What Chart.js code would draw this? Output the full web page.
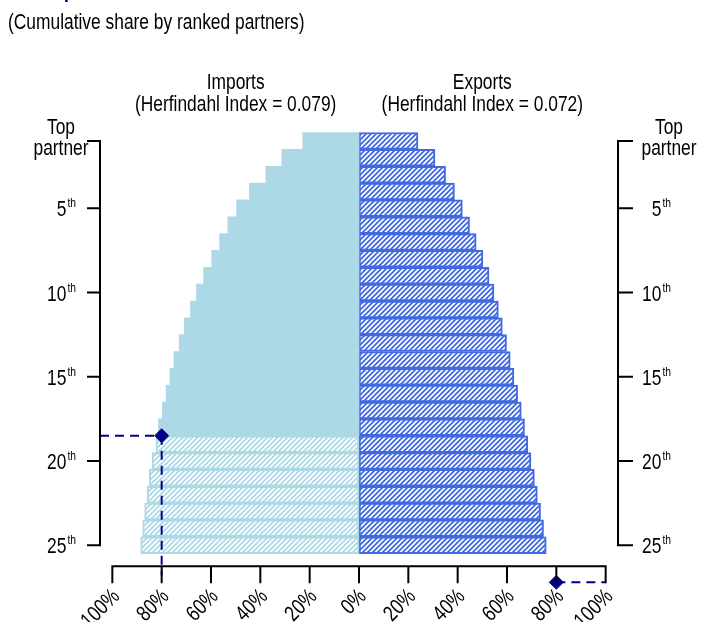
<!DOCTYPE html>
<html>
<head>
<meta charset="utf-8">
<script src="https://cdn.jsdelivr.net/npm/chart.js@4.4.0/dist/chart.umd.min.js"></script>
<style>
  html, body { margin: 0; padding: 0; background: #fff; }
  #chart { display: block; }
</style>
</head>
<body>
<canvas id="chart" width="701" height="622"></canvas>
<script>
// Ranked partners (1 = top partner)
const ranks = [1, 2, 3, 4, 5, 6, 7, 8, 9, 10, 11, 12, 13, 14, 15, 16, 17, 18, 19, 20, 21, 22, 23, 24, 25];
// Cumulative share (%) of imports / exports by ranked partner
const importShare = [22.8, 31.3, 37.8, 44.4, 49.6, 53.2, 56.5, 59.7, 63.0, 65.9, 68.3, 70.8, 72.9,
                     75.0, 76.6, 78.2, 79.7, 81.3, 82.3, 83.9, 85.0, 85.9, 86.9, 87.7, 88.5];
const exportShare = [23.9, 30.8, 35.1, 38.7, 41.9, 44.8, 47.5, 50.2, 52.7, 54.7, 56.5, 58.1, 59.8,
                     61.3, 62.8, 64.3, 65.8, 67.1, 68.4, 69.7, 71.1, 72.3, 73.6, 74.8, 75.9];
const herfindahl = [0.079, 0.072];
const panelTitles = ["Imports", "Exports"];
const threshold = 80;

// tick labels
const xTickValues = [-100, -80, -60, -40, -20, 0, 20, 40, 60, 80, 100];
const xTickLabels = ["100%", "80%", "60%", "40%", "20%", "0%", "20%", "40%", "60%", "80%", "100%"];
const yTickValues = [1, 5, 10, 15, 20, 25];
const yTickLabels = ["Top partner", "5", "10", "15", "20", "25"];

const LIGHT = "#ADD8E6";
const ROYAL = "#4169E1";
const NAVY = "#00008B";
const FONT = '"Liberation Sans", Arial, sans-serif';
const SQUEEZE = 0.79;   // no condensed font installed, so squeeze the regular one

// where the 80% line sits (between ranks, or below the axis when never reached)
const importCut = importShare.findIndex(v => v >= threshold);      // index of first rank over 80%
const exportCut = exportShare.findIndex(v => v >= threshold);
const notReachedRank = 27.2;
const importMarkRank = importCut >= 0 ? ranks[importCut] + 0.5 : notReachedRank;
const exportMarkRank = exportCut >= 0 ? ranks[exportCut] + 0.5 : notReachedRank;
const axisRank = 26.25;      // x axis position
const yMin = 0.35, yMax = 27.66;
const xMin = -105, xMax = 105;

function hatch(color) {
    var c = document.createElement("canvas");
    c.width = c.height = 5;
    var g = c.getContext("2d");
    g.fillStyle = "#fff";
    g.fillRect(0, 0, 5, 5);
    g.strokeStyle = color;
    g.lineWidth = 1.8;
    g.beginPath();
    g.moveTo(0, 5); g.lineTo(5, 0);
    g.moveTo(-2.5, 2.5); g.lineTo(2.5, -2.5);
    g.moveTo(2.5, 7.5); g.lineTo(7.5, 2.5);
    g.stroke();
    return g.createPattern(c, "repeat");
}
const importHatch = hatch(LIGHT);
const exportHatch = hatch(ROYAL);

// condensed text: returns drawn width
function txt(ctx, s, x, y, size, align, weight) {
    ctx.font = (weight || "") + " " + size + "px " + FONT;
    var w = ctx.measureText(s).width * SQUEEZE;
    ctx.save();
    ctx.translate(x, y);
    ctx.scale(SQUEEZE, 1);
    ctx.textAlign = align || "left";
    ctx.fillText(s, 0, 0);
    ctx.restore();
    return w;
}
function textWidth(ctx, s, size) {
    ctx.font = size + "px " + FONT;
    return ctx.measureText(s).width * SQUEEZE;
}

// draws "5" + superscript "th", right aligned at x
function ordinal(ctx, label, x, y) {
    var w1 = textWidth(ctx, label, 22);
    var w2 = textWidth(ctx, "th", 13);
    var start = x - w1 - w2 - 1;
    txt(ctx, label, start, y + 8, 22);
    txt(ctx, "th", start + w1 + 1, y - 1, 13);
}

const decorations = {
    id: "decorations",
    afterDraw: function(chart) {
        var ctx = chart.ctx;
        var xs = chart.scales.x, ys = chart.scales.y;
        ctx.save();
        ctx.fillStyle = "#000";
        ctx.strokeStyle = "#000";
        ctx.textBaseline = "alphabetic";

        // titles
        ctx.fillStyle = NAVY;
        txt(ctx, "Trade partner concentration", 8, -3, 24, "left", "bold");
        ctx.fillStyle = "#000";
        txt(ctx, "(Cumulative share by ranked partners)", 8, 29, 22);

        [-50, 50].forEach(function(v, i) {
            var px = xs.getPixelForValue(v);
            txt(ctx, panelTitles[i], px, 89, 22, "center");
            txt(ctx, "(Herfindahl Index = " + herfindahl[i].toFixed(3) + ")", px, 111, 22, "center");
        });

        // y axes (left and right brackets)
        ctx.lineWidth = 2;
        var top = ys.getPixelForValue(yTickValues[0]);
        var bot = ys.getPixelForValue(yTickValues[yTickValues.length - 1]);
        var lx = xs.getPixelForValue(xMin), rx = xs.getPixelForValue(xMax);
        ctx.beginPath();
        ctx.moveTo(lx, top); ctx.lineTo(lx, bot);
        ctx.moveTo(rx, top); ctx.lineTo(rx, bot);
        yTickValues.forEach(function(v) {
            var py = ys.getPixelForValue(v);
            ctx.moveTo(lx + 1, py); ctx.lineTo(lx - 13, py);
            ctx.moveTo(rx - 1, py); ctx.lineTo(rx + 15, py);
        });
        ctx.stroke();

        yTickValues.forEach(function(v, i) {
            var py = ys.getPixelForValue(v);
            if (i === 0) {
                var parts = yTickLabels[0].split(" ");
                [61, 669].forEach(function(cx) {
                    txt(ctx, parts[0], cx, py - 7, 22, "center");
                    txt(ctx, parts[1], cx, py + 14, 22, "center");
                });
            } else {
                ordinal(ctx, yTickLabels[i], 76, py);
                ordinal(ctx, yTickLabels[i], 671, py);
            }
        });

        // x axis
        var ay = ys.getPixelForValue(axisRank);
        ctx.beginPath();
        ctx.moveTo(xs.getPixelForValue(-100) - 1, ay);
        ctx.lineTo(xs.getPixelForValue(100) + 1, ay);
        xTickValues.forEach(function(v) {
            var px = xs.getPixelForValue(v);
            ctx.moveTo(px, ay); ctx.lineTo(px, ay + 17);
        });
        ctx.stroke();

        ctx.textBaseline = "middle";
        xTickValues.forEach(function(v, i) {
            var px = xs.getPixelForValue(v);
            ctx.save();
            ctx.translate(px + 4, ay + 27);
            ctx.rotate(-Math.PI / 4);
            txt(ctx, xTickLabels[i], 0, 0, 22, "right");
            ctx.restore();
        });
        ctx.restore();
    }
};

function dashed(points) {
    return {
        type: "line",
        data: points,
        borderColor: NAVY,
        borderWidth: 2,
        borderDash: [9, 6],
        pointRadius: 0,
        pointHoverRadius: 0,
        fill: false,
        order: 1
    };
}

var ctx = document.getElementById("chart").getContext("2d");
var myChart = new Chart(ctx, {
    type: "bar",
    data: {
        datasets: [
            {
                type: "line",
                label: "80% mark",
                data: [{ x: -threshold, y: importMarkRank }, { x: threshold, y: exportMarkRank }],
                showLine: false,
                pointStyle: "rectRot",
                pointRadius: 7,
                pointBackgroundColor: NAVY,
                pointBorderColor: NAVY,
                pointBorderWidth: 1,
                order: 0
            },
            dashed([{ x: xMin, y: importMarkRank }, { x: -threshold, y: importMarkRank }]),
            dashed([{ x: -threshold, y: importMarkRank }, { x: -threshold, y: 26.8 }]),
            dashed([{ x: threshold, y: exportMarkRank }, { x: 100, y: exportMarkRank }]),
            {
                label: "Imports",
                data: ranks.map(function(r, i) { return { x: -importShare[i], y: r }; }),
                backgroundColor: function(c) { return c.dataIndex <= importCut ? LIGHT : importHatch; },
                borderColor: LIGHT,
                borderWidth: function(c) { return c.dataIndex <= importCut ? 0 : 2; },
                borderSkipped: false,
                grouped: false,
                barPercentage: 1,
                categoryPercentage: 1,
                order: 2
            },
            {
                label: "Exports",
                data: ranks.map(function(r, i) { return { x: exportShare[i], y: r }; }),
                backgroundColor: exportHatch,
                borderColor: ROYAL,
                borderWidth: 2,
                borderSkipped: false,
                grouped: false,
                barPercentage: 1,
                categoryPercentage: 1,
                order: 2
            }
        ]
    },
    options: {
        indexAxis: "y",
        responsive: false,
        animation: false,
        devicePixelRatio: 1,
        layout: { padding: { left: 100, right: 83, top: 130, bottom: 32 } },
        plugins: { legend: { display: false }, tooltip: { enabled: false }, title: { display: false } },
        scales: {
            x: { type: "linear", min: xMin, max: xMax, display: false },
            y: { type: "linear", min: yMin, max: yMax, reverse: true, offset: false, display: false }
        }
    },
    plugins: [decorations]
});
</script>
</body>
</html>
